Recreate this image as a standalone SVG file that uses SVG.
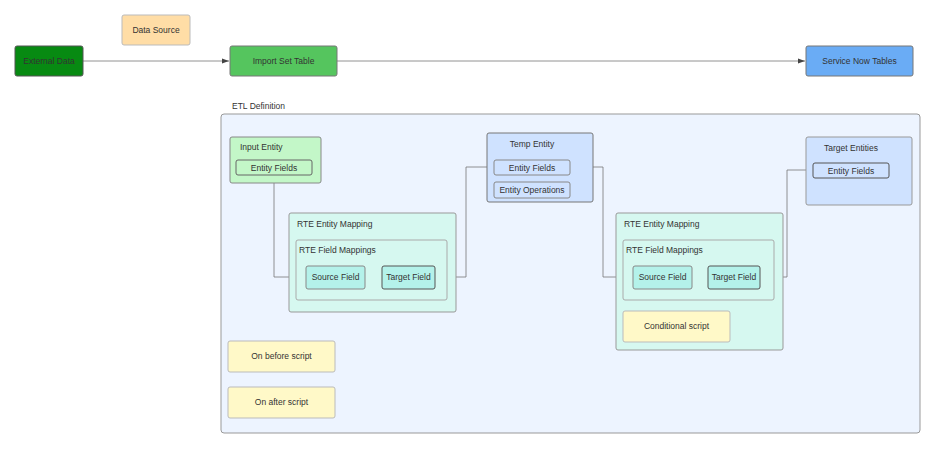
<svg xmlns="http://www.w3.org/2000/svg" width="936" height="450" viewBox="0 0 936 450">
<style>
text{font-family:"Liberation Sans",Arial,sans-serif;font-size:8.5px;fill:#333}
.c{text-anchor:middle}
rect{stroke-width:1}
.n{stroke:#666}
.in{stroke:#777}
.w{fill:none;stroke:#777;stroke-width:0.8}
</style>
<defs><marker id="a" markerWidth="8" markerHeight="8" refX="7" refY="4" orient="auto" markerUnits="userSpaceOnUse"><path d="M0,1.5 L7,4 L0,6.5z" fill="#444"/></marker></defs>
<rect width="936" height="450" fill="#fff"/>
<g id="etl"><text x="232" y="109">ETL Definition</text><rect x="221" y="114" width="699" height="319" rx="3" fill="#edf4ff" stroke="#999"/></g>
<g id="connectors">
<path class="w" d="M83,61H229" marker-end="url(#a)"/>
<path class="w" d="M337,61H805" marker-end="url(#a)"/>
<path class="w" d="M274,175V277H306"/>
<path class="w" d="M435,277H466V167H494"/>
<path class="w" d="M570,167H603V277H633"/>
<path class="w" d="M760,277H787V170H813"/>
</g>
<g id="external"><rect x="15" y="46" width="68" height="30" rx="2" fill="#078a12" stroke="#555"/><text class="c" x="49" y="64">External Data</text></g>
<g id="datasource"><rect x="122" y="15" width="68" height="30" rx="2" fill="#ffdda6" stroke="#bbb"/><text class="c" x="156" y="33">Data Source</text></g>
<g id="importset"><rect x="230" y="46" width="107" height="30" rx="2" fill="#55c55e" stroke="#777"/><text class="c" x="283.5" y="64">Import Set Table</text></g>
<g id="servicenow"><rect x="806" y="46" width="107" height="30" rx="2" fill="#6aacf5" stroke="#777"/><text class="c" x="859.5" y="64">Service Now Tables</text></g>
<g id="input"><rect x="230" y="137" width="91" height="46" rx="2" fill="#c3f7c8" stroke="#888"/><text x="240" y="150">Input Entity</text>
<rect x="236" y="160" width="76" height="15" rx="2" fill="#c3f7c8" stroke="#666"/><text class="c" x="274" y="170.5">Entity Fields</text></g>
<g id="map1"><rect x="289" y="213" width="167" height="99" rx="2" fill="#d6f8f0" stroke="#999"/><text x="297" y="227">RTE Entity Mapping</text>
<rect x="296" y="240" width="151" height="60" rx="2" fill="#d6f8f0" stroke="#aaa"/><text x="299" y="253">RTE Field Mappings</text>
<rect x="306" y="266" width="59" height="23" rx="2" fill="#b4f2ea" stroke="#888"/><text class="c" x="335.5" y="280">Source Field</text>
<rect x="382" y="266" width="53" height="23" rx="2" fill="#b4f2ea" stroke="#555"/><text class="c" x="408.5" y="280">Target Field</text></g>
<g id="temp"><rect x="487" y="133" width="106" height="69" rx="2" fill="#cfe2ff" stroke="#777"/><text class="c" x="532" y="147">Temp Entity</text>
<rect x="494" y="160" width="76" height="15" rx="2" fill="#cfe2ff" stroke="#888"/><text class="c" x="532" y="170.5">Entity Fields</text>
<rect x="494" y="182" width="76" height="16" rx="2" fill="#cfe2ff" stroke="#888"/><text class="c" x="532" y="193">Entity Operations</text></g>
<g id="map2"><rect x="616" y="213" width="167" height="137" rx="2" fill="#d6f8f0" stroke="#999"/><text x="624" y="227">RTE Entity Mapping</text>
<rect x="623" y="240" width="151" height="60" rx="2" fill="#d6f8f0" stroke="#aaa"/><text x="626" y="253">RTE Field Mappings</text>
<rect x="633" y="266" width="59" height="23" rx="2" fill="#b4f2ea" stroke="#888"/><text class="c" x="662.5" y="280">Source Field</text>
<rect x="708" y="266" width="52" height="23" rx="2" fill="#b4f2ea" stroke="#555"/><text class="c" x="734" y="280">Target Field</text>
<rect x="623" y="311" width="107" height="31" rx="2" fill="#fff9c8" stroke="#bbb"/><text class="c" x="676.5" y="329">Conditional script</text></g>
<g id="target"><rect x="806" y="137" width="106" height="68" rx="2" fill="#cfe2ff" stroke="#999"/><text class="c" x="851" y="151">Target Entities</text>
<rect x="813" y="163" width="76" height="15" rx="2" fill="#cfe2ff" stroke="#555"/><text class="c" x="851" y="173.5">Entity Fields</text></g>
<g id="before"><rect x="228" y="341" width="107" height="31" rx="2" fill="#fff9c8" stroke="#bbb"/><text class="c" x="281.5" y="359">On before script</text></g>
<g id="after"><rect x="228" y="387" width="107" height="31" rx="2" fill="#fff9c8" stroke="#bbb"/><text class="c" x="281.5" y="405">On after script</text></g>
</svg>
